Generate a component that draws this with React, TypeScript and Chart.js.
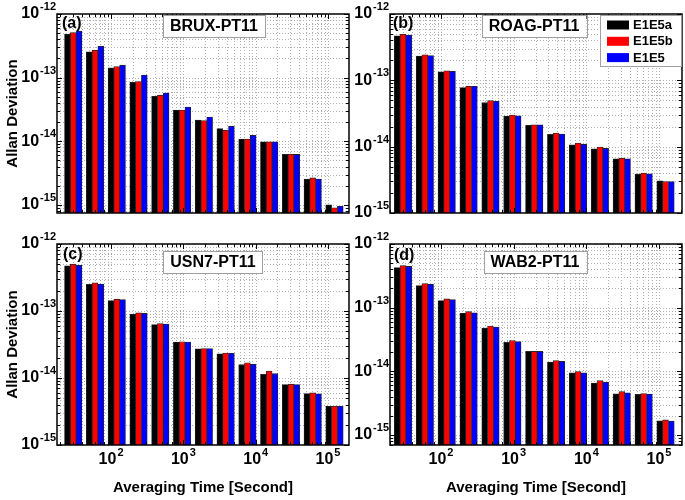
import React, { useEffect, useRef } from 'react';
import { Chart, registerables } from 'chart.js';

Chart.register(...registerables);

// ---------------- data ----------------
const TAU = [30, 60, 120, 240, 480, 960, 1920, 3840, 7680, 15360, 30720, 61440, 122880];
const SERIES_NAMES = ['E1E5a', 'E1E5b', 'E1E5'];
const SERIES_COLORS = ['#000000', '#ff0000', '#0000ff'];
const STATIONS = ['BRUX-PT11', 'ROAG-PT11', 'USN7-PT11', 'WAB2-PT11'];
const TAGS = ['(a)', '(b)', '(c)', '(d)'];
const Y_TITLE = 'Allan Deviation';
const X_TITLE = 'Averaging Time [Second]';
const Y_TICK_EXPONENTS = [-12, -13, -14, -15];
const X_TICK_EXPONENTS = [2, 3, 4, 5];

const BRUX_E1E5A = [4.8e-13, 2.55e-13, 1.42e-13, 8.4e-14, 5.1e-14, 3.1e-14, 2.15e-14, 1.58e-14, 1.08e-14, 9.8e-15, 6.2e-15, 2.55e-15, 1.0e-15];
const BRUX_E1E5B = [5.1e-13, 2.7e-13, 1.49e-13, 8.7e-14, 5.3e-14, 3.1e-14, 2.12e-14, 1.49e-14, 1.08e-14, 9.8e-15, 6.25e-15, 2.65e-15, 9.0e-16];
const BRUX_E1E5 = [5.4e-13, 3.1e-13, 1.57e-13, 1.1e-13, 5.7e-14, 3.45e-14, 2.4e-14, 1.72e-14, 1.24e-14, 9.8e-15, 6.2e-15, 2.55e-15, 9.5e-16];

const ROAG_E1E5A = [4.7e-13, 2.33e-13, 1.34e-13, 7.8e-14, 4.6e-14, 2.9e-14, 2.1e-14, 1.53e-14, 1.07e-14, 9.3e-15, 6.55e-15, 3.85e-15, 3.05e-15];
const ROAG_E1E5B = [4.95e-13, 2.42e-13, 1.39e-13, 8.15e-14, 4.95e-14, 3.0e-14, 2.13e-14, 1.6e-14, 1.13e-14, 9.85e-15, 6.7e-15, 4.0e-15, 2.98e-15];
const ROAG_E1E5 = [4.83e-13, 2.36e-13, 1.37e-13, 8.1e-14, 4.84e-14, 2.92e-14, 2.13e-14, 1.55e-14, 1.09e-14, 9.4e-15, 6.56e-15, 3.9e-15, 2.98e-15];

const USN7_E1E5A = [4.73e-13, 2.49e-13, 1.43e-13, 8.95e-14, 6.27e-14, 3.44e-14, 2.73e-14, 2.3e-14, 1.58e-14, 1.13e-14, 8.0e-15, 5.86e-15, 3.79e-15];
const USN7_E1E5B = [5.0e-13, 2.64e-13, 1.5e-13, 9.38e-14, 6.49e-14, 3.48e-14, 2.76e-14, 2.35e-14, 1.69e-14, 1.27e-14, 8.08e-15, 6.0e-15, 3.79e-15];
const USN7_E1E5 = [4.8e-13, 2.52e-13, 1.48e-13, 9.2e-14, 6.4e-14, 3.44e-14, 2.76e-14, 2.33e-14, 1.6e-14, 1.16e-14, 8.0e-15, 5.8e-15, 3.79e-15];

const WAB2_E1E5A = [4.28e-13, 2.22e-13, 1.29e-13, 8.15e-14, 4.78e-14, 2.84e-14, 2.05e-14, 1.39e-14, 9.42e-15, 6.55e-15, 4.44e-15, 4.33e-15, 1.66e-15];
const WAB2_E1E5B = [4.6e-13, 2.39e-13, 1.37e-13, 8.65e-14, 5.14e-14, 3.05e-14, 2.05e-14, 1.47e-14, 9.88e-15, 7.13e-15, 4.78e-15, 4.47e-15, 1.72e-15];
const WAB2_E1E5 = [4.44e-13, 2.33e-13, 1.34e-13, 8.3e-14, 4.97e-14, 2.94e-14, 2.05e-14, 1.43e-14, 9.5e-15, 6.7e-15, 4.6e-15, 4.4e-15, 1.65e-15];

const PANEL_SERIES = [
  [BRUX_E1E5A, BRUX_E1E5B, BRUX_E1E5],
  [ROAG_E1E5A, ROAG_E1E5B, ROAG_E1E5],
  [USN7_E1E5A, USN7_E1E5B, USN7_E1E5],
  [WAB2_E1E5A, WAB2_E1E5B, WAB2_E1E5],
];

// axis ranges per panel
const Y_MIN = [7.45e-16, 1e-15, 1e-15, 6.95e-16];
const Y_MAX = [1e-12, 1e-12, 1e-12, 1e-12];
const X_MIN = [17.9, 19.9, 17.9, 19.9];
const X_MAX = [1.95e5, 2.07e5, 1.95e5, 2.07e5];

// ---------------- layout (pixels) ----------------
const LAYOUT = [
  { left: 0, top: 0, w: 350, h: 230, padTop: 14, padRight: 1, yW: 57, xH: 17, yTitle: true, xLabels: false, legend: false, boxCx: 157, boxTop: 1, tagX: 5, tagY: 10 },
  { left: 340, top: 0, w: 345, h: 230, padTop: 14, padRight: 3, yW: 50, xH: 17, yTitle: false, xLabels: false, legend: true, boxCx: 144, boxTop: 1, tagX: 3, tagY: 10 },
  { left: 0, top: 230, w: 350, h: 270, padTop: 14, padRight: 1, yW: 57, xH: 55, yTitle: true, xLabels: true, legend: false, boxCx: 156, boxTop: 7, tagX: 6, tagY: 11 },
  { left: 340, top: 230, w: 345, h: 270, padTop: 14, padRight: 3, yW: 50, xH: 55, yTitle: false, xLabels: true, legend: false, boxCx: 145, boxTop: 7, tagX: 4, tagY: 12 },
];

const FONT = "'Liberation Sans', Arial, sans-serif";

const isPow10 = (v: number) => {
  const l = Math.log10(v);
  return Math.abs(l - Math.round(l)) < 1e-6;
};

function logTicks(min: number, max: number) {
  const out: { value: number; major: boolean }[] = [];
  const e0 = Math.floor(Math.log10(min)) - 1;
  const e1 = Math.ceil(Math.log10(max)) + 1;
  for (let e = e0; e <= e1; e++) {
    for (let m = 1; m <= 9; m++) {
      const v = Number((m * Math.pow(10, e)).toPrecision(10));
      if (v >= min * (1 - 1e-9) && v <= max * (1 + 1e-9)) out.push({ value: v, major: m === 1 });
    }
  }
  return out;
}

// draws "10" with a raised exponent; align = 'right' | 'center'
function drawPow(ctx: any, x: number, y: number, exp: number, align: string) {
  const base = '10';
  const sup = String(exp);
  ctx.font = `bold 16px ${FONT}`;
  const bw = ctx.measureText(base).width;
  ctx.font = `bold 11px ${FONT}`;
  const sw = ctx.measureText(sup).width;
  const total = bw + sw + 1;
  const x0 = align === 'right' ? x - total : x - total / 2;
  ctx.fillStyle = '#000';
  ctx.textAlign = 'left';
  ctx.textBaseline = 'middle';
  ctx.font = `bold 16px ${FONT}`;
  ctx.fillText(base, x0, y);
  ctx.font = `bold 11px ${FONT}`;
  ctx.fillText(sup, x0 + bw + 1, y - 7);
}

function decorPlugin(idx: number) {
  const L = LAYOUT[idx];
  return {
    id: 'decor' + idx,
    beforeDatasetsDraw(chart: any) {
      const { ctx, chartArea: a, scales } = chart;
      const x = scales.x;
      const y = scales.y;
      ctx.save();
      ctx.strokeStyle = '#b0b0b0';
      ctx.lineWidth = 1;
      ctx.setLineDash([1, 2]);
      for (const t of x.ticks) {
        const px = Math.round(x.getPixelForValue(t.value)) + 0.5;
        if (px <= a.left + 1 || px >= a.right - 1) continue;
        ctx.beginPath();
        ctx.moveTo(px, a.top);
        ctx.lineTo(px, a.bottom);
        ctx.stroke();
      }
      for (const t of y.ticks) {
        const py = Math.round(y.getPixelForValue(t.value)) + 0.5;
        if (py <= a.top + 1 || py >= a.bottom - 1) continue;
        ctx.beginPath();
        ctx.moveTo(a.left, py);
        ctx.lineTo(a.right, py);
        ctx.stroke();
      }
      ctx.restore();
    },
    afterDatasetsDraw(chart: any) {
      const { ctx, chartArea: a, scales } = chart;
      const x = scales.x;
      const y = scales.y;
      ctx.save();
      // tick marks (inward, all sides)
      ctx.strokeStyle = '#000';
      ctx.lineWidth = 1;
      for (const t of x.ticks) {
        const px = Math.round(x.getPixelForValue(t.value)) + 0.5;
        const len = isPow10(t.value) ? 5 : 3;
        ctx.beginPath();
        ctx.moveTo(px, a.bottom);
        ctx.lineTo(px, a.bottom - len);
        ctx.moveTo(px, a.top);
        ctx.lineTo(px, a.top + len);
        ctx.stroke();
      }
      for (const t of y.ticks) {
        const py = Math.round(y.getPixelForValue(t.value)) + 0.5;
        const len = isPow10(t.value) ? 5 : 3;
        ctx.beginPath();
        ctx.moveTo(a.left, py);
        ctx.lineTo(a.left + len, py);
        ctx.moveTo(a.right, py);
        ctx.lineTo(a.right - len, py);
        ctx.stroke();
      }
      // frame
      ctx.lineWidth = 1.5;
      ctx.strokeRect(a.left, a.top, a.right - a.left, a.bottom - a.top);

      // tick labels with superscript exponents
      for (const e of Y_TICK_EXPONENTS) {
        const v = Math.pow(10, e);
        if (v < y.min * 0.999 || v > y.max * 1.001) continue;
        drawPow(ctx, a.left - 1, y.getPixelForValue(v), e, 'right');
      }
      if (L.xLabels) {
        for (const e of X_TICK_EXPONENTS) {
          const v = Math.pow(10, e);
          if (v < x.min || v > x.max) continue;
          drawPow(ctx, x.getPixelForValue(v), a.bottom + 15, e, 'center');
        }
      }

      // station title box
      ctx.font = `bold 16px ${FONT}`;
      const title = STATIONS[idx];
      const tw = ctx.measureText(title).width;
      const bw = tw + 14;
      const bh = 22;
      const bx = a.left + L.boxCx - bw / 2;
      const by = a.top + L.boxTop;
      ctx.fillStyle = '#fff';
      ctx.fillRect(bx, by, bw, bh);
      ctx.strokeStyle = '#a0a0a0';
      ctx.lineWidth = 1;
      ctx.strokeRect(Math.round(bx) + 0.5, Math.round(by) + 0.5, Math.round(bw), bh);
      ctx.fillStyle = '#000';
      ctx.textAlign = 'center';
      ctx.textBaseline = 'middle';
      ctx.fillText(title, a.left + L.boxCx, by + bh / 2 + 1);

      // panel tag
      ctx.font = `bold 16px ${FONT}`;
      ctx.textAlign = 'left';
      ctx.fillText(TAGS[idx], a.left + L.tagX, a.top + L.tagY);

      // legend
      if (L.legend) {
        const lw = 81;
        const lh = 51;
        const lx = a.right - lw - 1;
        const ly = a.top + 1;
        ctx.fillStyle = '#fff';
        ctx.fillRect(lx, ly, lw, lh);
        ctx.strokeStyle = '#a0a0a0';
        ctx.strokeRect(lx + 0.5, ly + 0.5, lw, lh);
        ctx.font = `bold 13px ${FONT}`;
        chart.data.datasets.forEach((ds: any, i: number) => {
          const cy = ly + 10 + i * 16.3;
          ctx.fillStyle = ds.backgroundColor;
          ctx.fillRect(lx + 7, cy - 4.5, 22, 9);
          ctx.fillStyle = '#000';
          ctx.textAlign = 'left';
          ctx.textBaseline = 'middle';
          ctx.fillText(ds.label, lx + 33, cy + 0.5);
        });
      }
      ctx.restore();
    },
  };
}

function Panel({ idx }: { idx: number }) {
  const ref = useRef<HTMLCanvasElement>(null);
  const L = LAYOUT[idx];
  useEffect(() => {
    if (!ref.current) return;
    const series = PANEL_SERIES[idx];
    const chart = new Chart(ref.current, {
      type: 'bar',
      data: {
        datasets: series.map((vals, s) => ({
          label: SERIES_NAMES[s],
          data: TAU.map((t, i) => ({ x: t, y: vals[i] })),
          backgroundColor: SERIES_COLORS[s],
          borderColor: '#262626',
          borderWidth: 0.8,
          barThickness: 5.8,
        })),
      },
      options: {
        responsive: false,
        animation: false,
        events: [],
        layout: { padding: { top: L.padTop, right: L.padRight, left: 0, bottom: 0 } },
        plugins: { legend: { display: false }, tooltip: { enabled: false } },
        scales: {
          x: {
            type: 'logarithmic',
            min: X_MIN[idx],
            max: X_MAX[idx],
            offset: false,
            grid: { display: false, offset: false, drawTicks: false },
            border: { display: false },
            afterBuildTicks: (sc: any) => {
              sc.ticks = logTicks(X_MIN[idx], X_MAX[idx]);
            },
            afterFit: (sc: any) => {
              sc.height = L.xH;
            },
            ticks: { display: false, autoSkip: false, maxRotation: 0, minRotation: 0 },
            title: {
              display: L.xLabels,
              text: X_TITLE,
              color: '#000',
              font: { family: FONT, size: 15, weight: 'bold' },
              padding: { top: 0, bottom: 3 },
            },
          },
          y: {
            type: 'logarithmic',
            min: Y_MIN[idx],
            max: Y_MAX[idx],
            beginAtZero: false,
            grid: { display: false, drawTicks: false },
            border: { display: false },
            afterBuildTicks: (sc: any) => {
              sc.ticks = logTicks(Y_MIN[idx], Y_MAX[idx]);
            },
            afterFit: (sc: any) => {
              sc.width = L.yW;
            },
            ticks: { display: false, autoSkip: false },
            title: {
              display: L.yTitle,
              text: Y_TITLE,
              color: '#000',
              font: { family: FONT, size: 15, weight: 'bold' },
              padding: { top: 4, bottom: 0 },
            },
          },
        },
      } as any,
      plugins: [decorPlugin(idx)],
    });
    return () => chart.destroy();
  }, [idx]);
  return (
    <canvas
      ref={ref}
      width={L.w}
      height={L.h}
      style={{ position: 'absolute', left: L.left, top: L.top, width: L.w, height: L.h }}
    />
  );
}

export default function App() {
  return (
    <div style={{ position: 'absolute', left: 0, top: 0, width: 685, height: 500, background: '#fff', overflow: 'hidden' }}>
      {[0, 1, 2, 3].map((i) => (
        <Panel key={i} idx={i} />
      ))}
    </div>
  );
}
